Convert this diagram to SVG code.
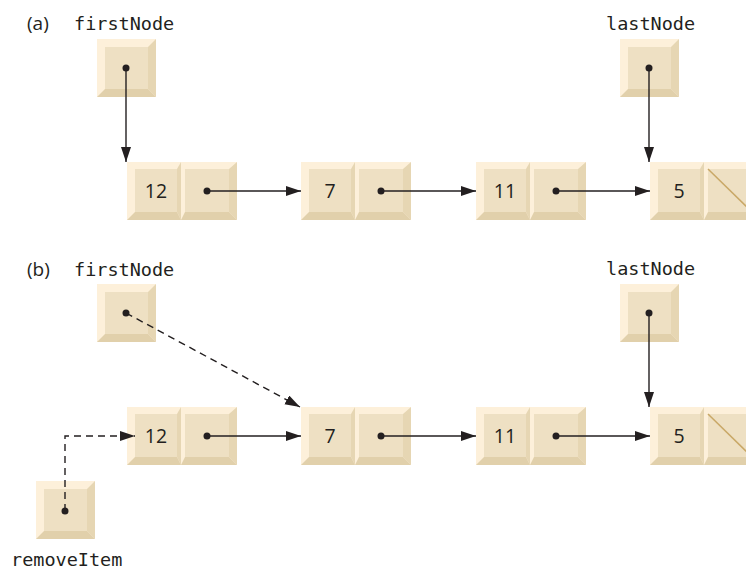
<svg xmlns="http://www.w3.org/2000/svg" xmlns:xlink="http://www.w3.org/1999/xlink" width="746" height="571" viewBox="0 0 746 571">
<style>
.lt{fill:#fdf0da}
.fc{fill:#eee0c3}
.rt{fill:#e6d6b3}
.bt{fill:#e1d0ab}
.mono{font-family:"DejaVu Sans Mono","Liberation Mono",monospace;font-size:18.5px;fill:#231f20}
.lab{font-family:"Open Sans","DejaVu Sans",sans-serif;font-size:19px;fill:#231f20}
.val{font-family:"Open Sans","DejaVu Sans",sans-serif;font-size:19.5px;fill:#231f20;text-anchor:middle}
.ln{stroke:#231f20;stroke-width:1.4;fill:none}
.dash{stroke-dasharray:7,5}
.dot{fill:#231f20}
.null{stroke:#c9a867;stroke-width:1.5}
</style>
<defs>
<marker id="ah" markerUnits="userSpaceOnUse" markerWidth="16" markerHeight="11" refX="15" refY="5" orient="auto">
<path d="M0,0 L15,5 L0,10 z" fill="#231f20"/>
</marker>
<g id="node">
<rect class="lt" x="0" y="0" width="110" height="58"/>
<polygon class="rt" points="54,0 54,58 50,50 50,7"/>
<polygon class="bt" points="0,58 54,58 50,50 8,50"/>
<rect class="fc" x="8" y="7" width="42" height="43"/>
<polygon class="rt" points="110,0 110,58 102,50 102,7"/>
<polygon class="bt" points="54,58 110,58 102,50 58,50"/>
<rect class="fc" x="58" y="7" width="44" height="43"/>
</g>
<g id="box">
<rect class="lt" x="0" y="0" width="59" height="58"/>
<polygon class="rt" points="59,0 59,58 51,50 51,8"/>
<polygon class="bt" points="0,58 59,58 51,50 8,50"/>
<rect class="fc" x="8" y="8" width="43" height="42"/>
</g>
</defs>

<text class="lab" x="27" y="30">(a)</text>
<text class="lab" x="27" y="276">(b)</text>

<g id="firstNodeA">
<text class="mono" x="74" y="30">firstNode</text>
<use xlink:href="#box" x="97" y="39"/>
</g>
<g id="lastNodeA">
<text class="mono" x="606" y="30">lastNode</text>
<use xlink:href="#box" x="620" y="39"/>
</g>
<g id="a12"><use xlink:href="#node" x="127" y="162"/><text class="val" x="156" y="197.5">12</text></g>
<g id="a7"><use xlink:href="#node" x="301" y="162"/><text class="val" x="330" y="197.5">7</text></g>
<g id="a11"><use xlink:href="#node" x="476" y="162"/><text class="val" x="505" y="197.5">11</text></g>
<g id="a5"><use xlink:href="#node" x="650" y="162"/><text class="val" x="679" y="197.5">5</text><line class="null" x1="708" y1="169" x2="752" y2="212"/></g>

<g id="firstNodeB">
<text class="mono" x="74" y="276">firstNode</text>
<use xlink:href="#box" x="97" y="284"/>
</g>
<g id="lastNodeB">
<text class="mono" x="606" y="275">lastNode</text>
<use xlink:href="#box" x="620" y="284"/>
</g>
<g id="removeItem">
<use xlink:href="#box" x="36" y="481"/>
<text class="mono" x="11" y="566">removeItem</text>
</g>
<g id="b12"><use xlink:href="#node" x="127" y="407"/><text class="val" x="156" y="442.5">12</text></g>
<g id="b7"><use xlink:href="#node" x="301" y="407"/><text class="val" x="330" y="442.5">7</text></g>
<g id="b11"><use xlink:href="#node" x="476" y="407"/><text class="val" x="505" y="442.5">11</text></g>
<g id="b5"><use xlink:href="#node" x="650" y="407"/><text class="val" x="679" y="442.5">5</text><line class="null" x1="708" y1="414" x2="752" y2="457"/></g>

<g id="connectors">
<line class="ln" x1="126" y1="68" x2="126" y2="162" marker-end="url(#ah)"/>
<line class="ln" x1="649" y1="68" x2="649" y2="162" marker-end="url(#ah)"/>
<line class="ln" x1="207" y1="191" x2="301" y2="191" marker-end="url(#ah)"/>
<line class="ln" x1="381" y1="191" x2="476" y2="191" marker-end="url(#ah)"/>
<line class="ln" x1="556" y1="191" x2="650" y2="191" marker-end="url(#ah)"/>

<line class="ln dash" x1="126" y1="313" x2="300" y2="407" marker-end="url(#ah)"/>
<line class="ln" x1="649" y1="313" x2="649" y2="407" marker-end="url(#ah)"/>
<polyline class="ln dash" points="65,511 65,436 135,436" marker-end="url(#ah)"/>
<line class="ln" x1="207" y1="436" x2="301" y2="436" marker-end="url(#ah)"/>
<line class="ln" x1="381" y1="436" x2="476" y2="436" marker-end="url(#ah)"/>
<line class="ln" x1="556" y1="436" x2="650" y2="436" marker-end="url(#ah)"/>

<circle class="dot" cx="126" cy="68" r="3.5"/>
<circle class="dot" cx="649" cy="68" r="3.5"/>
<circle class="dot" cx="207" cy="191" r="3.5"/>
<circle class="dot" cx="381" cy="191" r="3.5"/>
<circle class="dot" cx="556" cy="191" r="3.5"/>
<circle class="dot" cx="126" cy="313" r="3.5"/>
<circle class="dot" cx="649" cy="313" r="3.5"/>
<circle class="dot" cx="65" cy="511" r="3.5"/>
<circle class="dot" cx="207" cy="436" r="3.5"/>
<circle class="dot" cx="381" cy="436" r="3.5"/>
<circle class="dot" cx="556" cy="436" r="3.5"/>
</g>
</svg>
